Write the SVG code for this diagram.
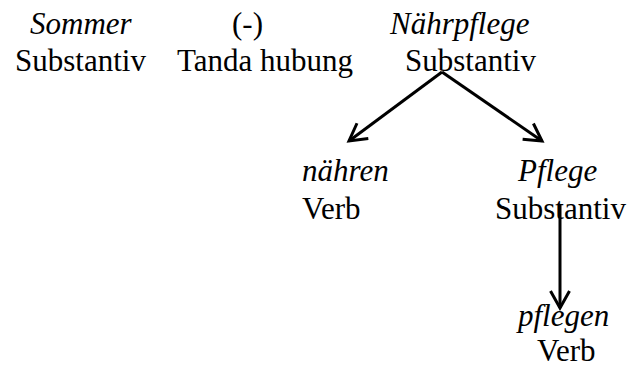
<svg xmlns="http://www.w3.org/2000/svg" width="631" height="370" viewBox="0 0 631 370">
<style>
text{font-family:Liberation Serif,Times New Roman,serif;font-size:31px;fill:#000}
.i{font-style:italic}
.c line{stroke:#000;stroke-width:3}
</style>
<defs>
<marker id="a" viewBox="0 0 22 22" refX="19" refY="11" markerWidth="22" markerHeight="22" markerUnits="userSpaceOnUse" orient="auto">
<path d="M2,1.5 L19,11 L2,20.5" fill="none" stroke="#000" stroke-width="3"/>
</marker>
</defs>
<rect width="631" height="370" fill="#fff"/>
<g id="sommer"><text class="i" x="30" y="34">Sommer</text><text x="15" y="71">Substantiv</text></g>
<g id="bindestrich"><text x="232" y="34">(-)</text><text x="177" y="71">Tanda hubung</text></g>
<g id="naehrpflege"><text class="i" x="390" y="34">Nährpflege</text><text x="405" y="71">Substantiv</text></g>
<g id="naehren"><text class="i" x="302" y="181">nähren</text><text x="302" y="219">Verb</text></g>
<g id="pflege"><text class="i" x="518" y="181">Pflege</text><text x="495" y="219">Substantiv</text></g>
<g id="pflegen"><text class="i" x="518" y="326">pflegen</text><text x="537" y="361">Verb</text></g>
<g class="c">
<line x1="442" y1="72" x2="349" y2="141" marker-end="url(#a)"/>
<line x1="442" y1="72" x2="542" y2="141" marker-end="url(#a)"/>
<line x1="560" y1="205" x2="560" y2="308" marker-end="url(#a)"/>
</g>
</svg>
